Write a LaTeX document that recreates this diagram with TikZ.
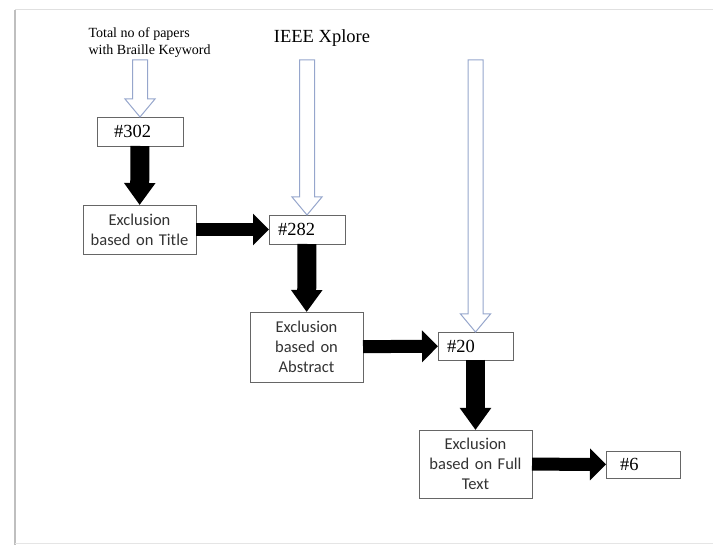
\documentclass[tikz,border=0pt]{standalone}
\usepackage{fontspec}
\setmainfont{Liberation Serif}
\newfontfamily\calibfont{Carlito}
\usepackage{tikz}
\usetikzlibrary{arrows.meta,calc}

\definecolor{srcblue}{RGB}{150,166,204}

% hollow source arrow: from coordinate #1 down to anchor #2
\newcommand{\srcarrow}[2]{%
  \draw[srcblue, line width=1pt, fill=white, line join=miter]
    ($(#1)+(-7.5,0)$) -- ($(#2)+(-7.5,-18)$) -- ($(#2)+(-15,-18)$) -- (#2)
    -- ($(#2)+(15,-18)$) -- ($(#2)+(7.5,-18)$) -- ($(#1)+(7.5,0)$) -- cycle;
}

\tikzset{
  count/.style={draw=black!60, line width=0.8pt, outer sep=0pt, inner xsep=9pt,
    minimum height=#1, align=left, font=\fontsize{18.5}{20}\selectfont},
  count/.default=29pt,
  excl/.style={draw=black!60, line width=0.8pt, outer sep=0pt, minimum width=113pt,
    text width=107pt, inner xsep=3pt, align=center, text=black!80,
    font=\calibfont\fontsize{16.5}{20}\selectfont},
  fatdown/.style={line width=19pt, -{Triangle[length=22pt,width=30pt]}},
  fatright/.style={line width=13pt, -{Triangle[length=16pt,width=31pt]}}
}

\begin{document}
\begin{tikzpicture}[x=1pt, y=-1pt]
    \useasboundingbox (0,0) rectangle (713,545);

    % frame of the figure
    \draw[black!12, line width=1pt] (713,10) -- (15,10);
    \draw[black!25, line width=2.5pt] (15,10) -- (15,545);
    \draw[black!10, line width=1pt] (15,543) -- (713,543);

    \node[anchor=west, align=left, font=\fontsize{14}{17}\selectfont] (src) at (85,43)
        {Total no of papers\\with Braille Keyword};
    \node[font=\fontsize{18.5}{20}\selectfont] (ieee) at (322,38) {IEEE Xplore};

    \node[count, text width=52pt, inner xsep=17pt] (n302) at (140,131.5) {\#302};
    \node[excl, minimum height=49pt] (title) at (139.5,229.5) {Exclusion\\based on Title};
    \node[count, text width=58pt] (n282) at (307,229.5) {\#282};
    \node[excl, minimum height=70pt] (abstract) at (306.5,347) {Exclusion\\based on\\Abstract};
    \node[count=28pt, text width=57pt] (n20) at (475.5,346) {\#20};
    \node[excl, minimum height=68pt] (fulltext) at (475.5,464) {Exclusion\\based on Full\\Text};
    \node[count=27pt, text width=46pt, inner xsep=14pt] (n6) at (643,464.5) {\#6};

    \coordinate (h1) at (140,60);
    \coordinate (h2) at (307,60);
    \coordinate (h3) at (475.5,60);

    \srcarrow{h1}{n302.north}
    \srcarrow{h2}{n282.north}
    \srcarrow{h3}{n20.north}

    \draw[fatdown] (n302) -- (title);
    \draw[fatright] (title) -- (n282);
    \draw[fatdown] (n282) -- (abstract);
    \draw[fatright] (abstract) -- (n20);
    \draw[fatdown] (n20) -- (fulltext);
    \draw[fatright] (fulltext) -- (n6);

\end{tikzpicture}
\end{document}
